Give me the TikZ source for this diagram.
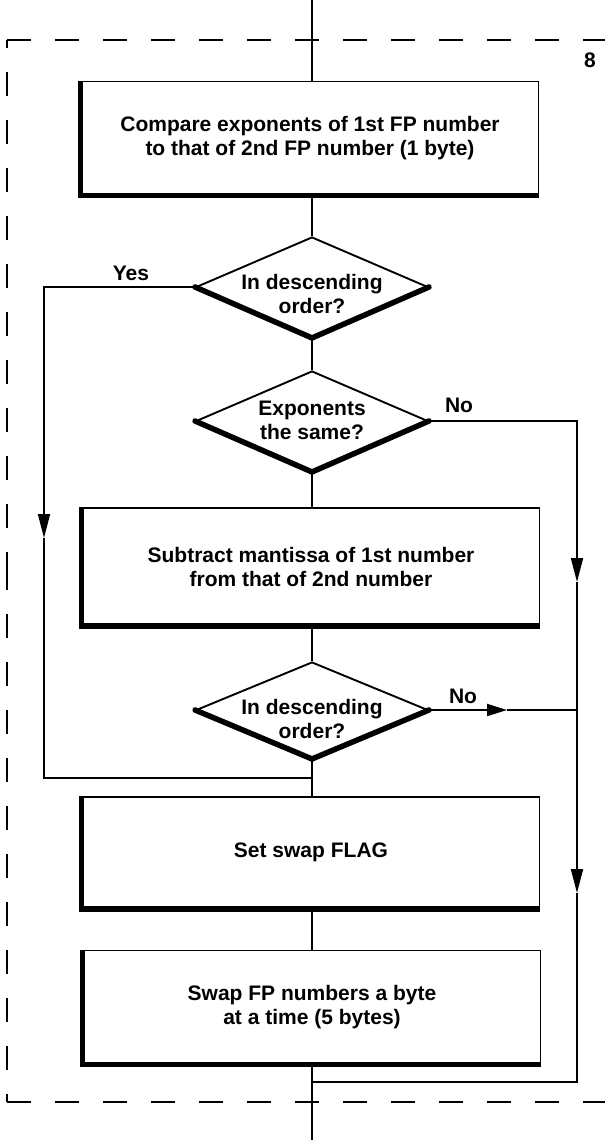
\documentclass[tikz,border=0pt]{standalone}
\usepackage{fontspec}
\setmainfont{Liberation Sans}
\usetikzlibrary{shapes.geometric,arrows.meta}
\begin{document}
\begin{tikzpicture}[x=1pt,y=-1pt,
  ln/.style={line width=1.9pt},
  heavy/.style={line width=5.5pt,line join=miter},
  arr/.style={-{Triangle[length=24pt,width=12pt]}},
  harr/.style={-{Triangle[length=20pt,width=12pt]}},
  frame/.style={line width=2.2pt,dash pattern=on 24pt off 24pt},
  vframe/.style={frame,dash phase=16pt},
  txt/.style={font=\fontsize{21}{24}\selectfont\bfseries},
  box/.style={draw,ln,rectangle,minimum width=457pt,minimum height=113pt,inner sep=0pt,align=center,txt},
  dia/.style={draw,ln,diamond,minimum width=232pt,minimum height=100pt,inner sep=0pt},
  lbl/.style={txt,align=center,inner sep=0pt}
]
\useasboundingbox (0,0) rectangle (605,1140);

% dashed frame
\draw[frame] (7,40) -- (605,40);
\draw[vframe] (7,40) -- (7,571);
\draw[vframe] (7,1102) -- (7,571);
\draw[frame] (7,1102) -- (605,1102);
\node[txt,inner sep=0pt] (pg) at (590,60) {8};

% nodes
\node[box] (b1) at (310,138) {Compare exponents of 1st FP number\\to that of 2nd FP number (1 byte)};
\node[dia] (d1) at (312,287) {};
\node[lbl] (d1t) at (312,294) {In descending\\order?};
\node[dia] (d2) at (312,421) {};
\node[lbl] (d2t) at (312,420) {Exponents\\the same?};
\node[box,minimum height=117pt] (b2) at (311,566.5) {Subtract mantissa of 1st number\\from that of 2nd number};
\node[dia,minimum height=96pt] (d3) at (312,710) {};
\node[lbl] (d3t) at (312,719) {In descending\\order?};
\node[box,minimum height=111pt] (b3) at (311,852.5) {Set swap FLAG};
\node[box,minimum height=113pt] (b4) at (312,1007) {Swap FP numbers a byte\\at a time (5 bytes)};

% heavy shadow edges
\foreach \b in {b1,b2,b3,b4}{
  \draw[heavy] (\b.north west) -- (\b.south west) -- (\b.south east);
}
\foreach \d in {d1,d2,d3}{
  \draw[heavy,line cap=round] (\d.west) -- (\d.south) -- (\d.east);
}

% labels
\node[txt,inner sep=0pt] (yes) at (131,273) {Yes};
\node[txt,inner sep=0pt] (no1) at (459,405) {No};
\node[txt,inner sep=0pt] (no2) at (463,696) {No};

% coordinates
\coordinate (top) at (312,0);
\coordinate (bot) at (312,1140);
\coordinate (ya) at (44,538);
\coordinate (j1) at (312,778);
\coordinate (na) at (577,582);
\coordinate (nb) at (577,893);
\coordinate (j2) at (312,1082);
\coordinate (nc) at (507,710);
\coordinate (nd) at (577,710);

% main flow
\draw[ln] (top) -- (top |- b1.north);
\draw[ln] (b1.south -| top) -- (d1.north);
\draw[ln] (d1.south) -- (d2.north);
\draw[ln] (d2.south) -- (d2.south |- b2.north);
\draw[ln] (d3.north |- b2.south) -- (d3.north);
\draw[ln] (d3.south) -- (d3.south |- b3.north);
\draw[ln] (d3.south |- b3.south) -- (d3.south |- b4.north);
\draw[ln] (d3.south |- b4.south) -- (bot);

% yes branch
\draw[ln,arr] (d1.west) -| (ya);
\draw[ln] (ya) |- (j1);

% no branches
\draw[ln,arr] (d2.east) -| (na);
\draw[ln,arr] (na) -- (nb);
\draw[ln] (nb) |- (j2);
\draw[ln,harr] (d3.east) -- (nc);
\draw[ln] (nc) -- (nd);
\end{tikzpicture}
\end{document}
